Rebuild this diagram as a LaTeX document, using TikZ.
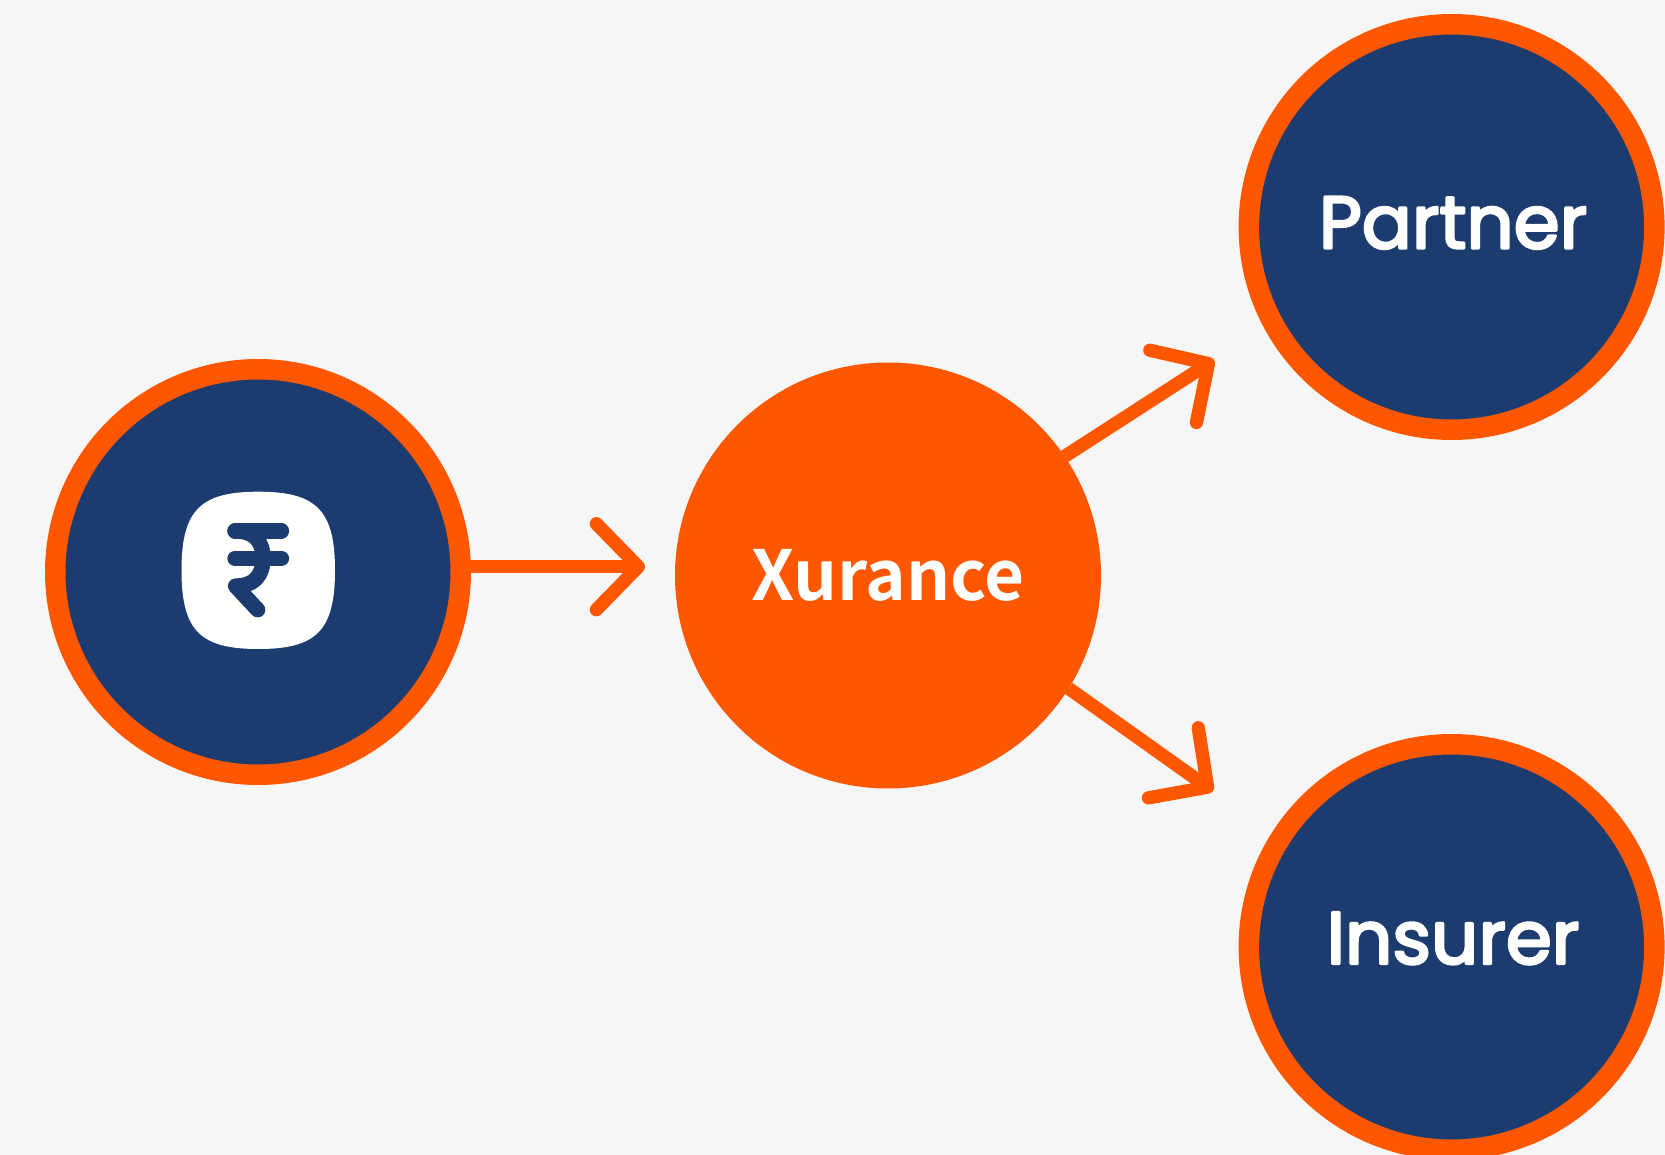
\documentclass[tikz,border=0pt]{standalone}
\usepackage{fontspec}
\usetikzlibrary{arrows.meta}
\setmainfont{Liberation Sans}
\newfontfamily\brandfont[FakeBold=3.5]{Poppins}
\newfontfamily\xfont{Noto Sans CJK SC Bold}
\definecolor{bgc}{HTML}{F6F6F6}
\definecolor{orangec}{HTML}{FF5700}
\definecolor{navyc}{HTML}{1C3C70}
\tikzset{
  ringnode/.style={circle,draw=orangec,fill=navyc,line width=20.5pt,minimum size=405.5pt,inner sep=0pt,outer sep=0pt,text=white},
  hubnode/.style={circle,fill=orangec,minimum size=426pt,inner sep=0pt,outer sep=0pt,text=white},
  brandtext/.style={font=\special{pdf:code 1 j 1 J}\brandfont\fontsize{74}{74}\selectfont},
  hubtext/.style={font=\xfont\fontsize{69}{69}\selectfont},
  flow/.style={draw=orangec,line width=13.3pt,line join=round,line cap=butt,-{Straight Barb[length=42pt,width=86pt,round]}},
  rupee/.style={draw=navyc,line width=15.3pt,line cap=round,line join=round}
}
\begin{document}
\begin{tikzpicture}[x=1pt,y=-1pt]
\useasboundingbox (0,0) rectangle (1665,1155);
\fill[bgc] (0,0) rectangle (1665,1155);
\coordinate (tipa) at (645,566.7);
\coordinate (tipb) at (1214,360);
\coordinate (tipc) at (1213,791);
\node[ringnode] (payer) at (258,572) {};
\node[hubnode,hubtext] (hub) at (888,575.5) {Xurance};
\node[ringnode,brandtext] (partner) at (1451.6,227) {\kern3pt\raisebox{9pt}{Partner}};
\node[ringnode,brandtext] (insurer) at (1451.6,947) {\kern3pt\raisebox{18pt}{Insurer}};
\draw[flow] (payer.east |- tipa) -- (tipa);
\draw[flow] (hub.34) -- (tipb);
\draw[flow] (hub.-32) -- (tipc);
% rupee badge
\fill[white] (258.3,491.7) .. controls (316,491.7) and (335,510) .. (335,570.3)
  .. controls (335,631) and (316,649) .. (258.3,649)
  .. controls (200.6,649) and (181.5,631) .. (181.5,570.3)
  .. controls (181.5,510) and (200.6,491.7) .. (258.3,491.7) -- cycle;
\draw[rupee] (235,531) -- (281.5,531);
\draw[rupee] (235,558.3) -- (281.5,558.3);
\draw[rupee] (235,531) .. controls (254,531) and (263,541) .. (263,558.3)
  .. controls (263,575.6) and (254,586) .. (235.5,586) -- (257.7,609.8);
\end{tikzpicture}
\end{document}
